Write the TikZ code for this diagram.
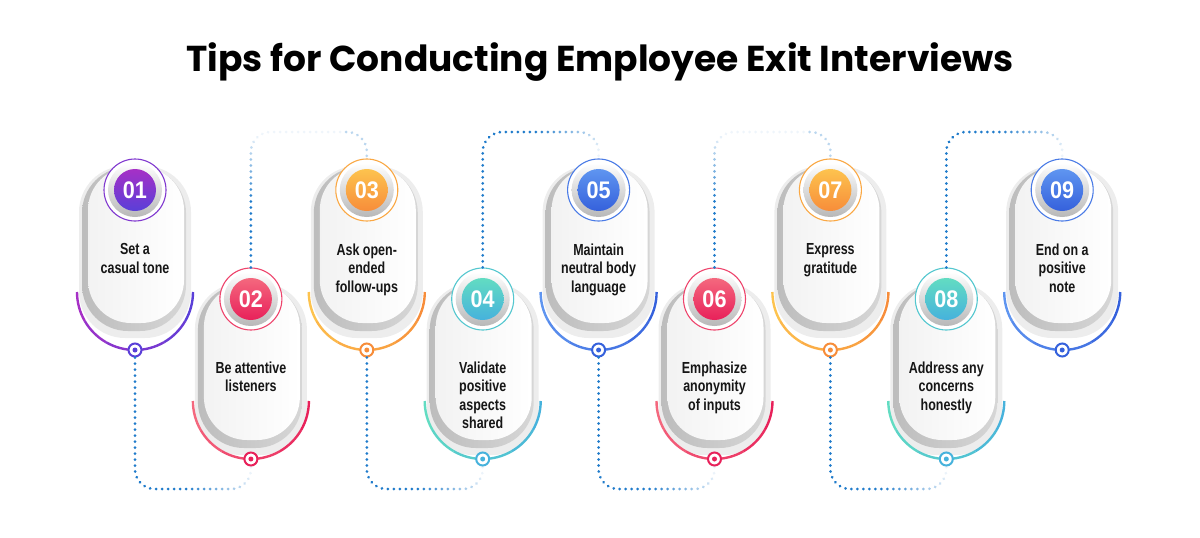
\documentclass[tikz,border=0pt]{standalone}
\usepackage{fontspec}
\setmainfont{Liberation Sans}
\newfontfamily\titlefont{Poppins}
\newfontfamily\cardfont{Liberation Sans}[FakeStretch=0.78]
\newfontfamily\numfont{Liberation Sans}[FakeStretch=0.9]
\usetikzlibrary{decorations.markings}
\definecolor{purA}{HTML}{A630C6}
\definecolor{purB}{HTML}{5A3FD8}
\definecolor{pinA}{HTML}{F4687E}
\definecolor{pinB}{HTML}{E8215A}
\definecolor{oraA}{HTML}{FDC34E}
\definecolor{oraB}{HTML}{F78D3A}
\definecolor{teaA}{HTML}{62DCC2}
\definecolor{teaB}{HTML}{46B2DC}
\definecolor{bluA}{HTML}{5F95F0}
\definecolor{bluB}{HTML}{3561DC}
\definecolor{dotblue}{HTML}{1F7BCB}
\definecolor{ink}{HTML}{161616}
\tikzset{
  pill/.style={rectangle, rounded corners=46pt, minimum width=104pt, minimum height=164pt, inner sep=0pt},
  fadeend/.style={postaction={decorate, decoration={markings,
    mark=between positions 0 and 1 step 6pt with {%
      \pgfmathsetmacro\dfrac{\pgfkeysvalueof{/pgf/decoration/mark info/distance from start}/\pgfdecoratedpathlength}%
      \pgfmathsetmacro\dotop{max(0.08,min(1,3.2*(1-\dfrac)))}%
      \fill[dotblue, opacity=\dotop] (0,0) circle (1.5pt);}}}},
  fademid/.style={postaction={decorate, decoration={markings,
    mark=between positions 0 and 1 step 6pt with {%
      \pgfmathsetmacro\dfrac{\pgfkeysvalueof{/pgf/decoration/mark info/distance from start}/\pgfdecoratedpathlength}%
      \pgfmathsetmacro\dotop{max(max(0.07,min(1,1-3.5*(\dfrac-0.25))),(\dfrac>0.85)*0.3)}%
      \fill[dotblue, opacity=\dotop] (0,0) circle (1.5pt);}}}},
}
\begin{document}
\begin{tikzpicture}[x=1pt,y=-1pt]
\useasboundingbox (0,0) rectangle (1200,538);
\fill[white] (0,0) rectangle (1200,538);
\node[font=\titlefont\bfseries\fontsize{36}{40}\selectfont, anchor=base, text=black, inner sep=0pt] (title) at (600,71) {Tips for Conducting Employee Exit Interviews};

\foreach \idx/\cc/\txt in {1/pur/{Set a\\casual tone},2/pin/{Be attentive\\listeners},3/ora/{Ask open-\\ended\\follow-ups},4/tea/{Validate\\positive\\aspects\\shared},5/blu/{Maintain\\neutral body\\language},6/pin/{Emphasize\\anonymity\\of inputs},7/ora/{Express\\gratitude},8/tea/{Address any\\concerns\\honestly},9/blu/{End on a\\positive\\note}}{
  \pgfmathsetmacro\cardx{135+115.9*(\idx-1)}
  \pgfmathsetmacro\cardy{isodd(\idx)?190:299}
  \pgfmathsetmacro\pilly{\cardy+(isodd(\idx)?56:64)}
  \pgfmathsetmacro\texty{\cardy+(isodd(\idx)?53.5:62.5)}
  \pgfmathsetmacro\arcy{\cardy+102}
  \node[pill, fill=black, opacity=0.07, minimum width=112pt, minimum height=172pt] (soft\idx) at (\cardx,\pilly+6) {};
  \node[pill, left color=black!26, right color=black!16] (pill\idx) at (\cardx-1,\pilly+3) {};
  \node[pill, minimum width=96pt, minimum height=156pt, rounded corners=43pt, left color=black!5, right color=white] (face\idx) at (\cardx+1,\pilly-1) {};
  \foreach \seg in {0,...,5}{
    \pgfmathsetmacro\sa{180-30*\seg}
    \pgfmathtruncatemacro\pct{100-20*\seg}
    \draw[line width=2.4pt, draw=\cc A!\pct!\cc B] ([shift={(\cardx,\arcy)}]\sa:58) arc[start angle=\sa, delta angle=-30, radius=58];
  }
  \node[circle, draw=\cc A!50!\cc B, line width=1.1pt, fill=white, minimum size=62pt, inner sep=0pt] (ring\idx) at (\cardx,\cardy) {};
  \node[circle, minimum size=54pt, inner sep=0pt, top color=white, bottom color=black!28] (bevel\idx) at (\cardx,\cardy) {};
  \node[circle, minimum size=42pt, inner sep=0pt, top color=\cc A, bottom color=\cc B, text=white, font=\numfont\bfseries\fontsize{24}{24}\selectfont] (badge\idx) at (\cardx,\cardy) {0\idx};
  \node[anchor=north, align=center, inner sep=0pt, text=ink, font=\cardfont\bfseries\fontsize{16}{18.5}\selectfont] (txt\idx) at (\cardx,\texty) {\txt};
  \node[circle, draw=\cc B, line width=2pt, fill=white, minimum size=13pt, inner sep=0pt] (dot\idx) at (\cardx,\cardy+160) {};
  \fill[fill=\cc B] (dot\idx.center) circle (2.5);
}

\coordinate (bl) at (0,489);
\coordinate (tl) at (0,132);
\path[fadeend, rounded corners=20pt] (dot1.south) -- (dot1.south |- bl) -- (dot2.south |- bl) -- (dot2.south);
\path[fadeend, rounded corners=20pt] (dot3.south) -- (dot3.south |- bl) -- (dot4.south |- bl) -- (dot4.south);
\path[fadeend, rounded corners=20pt] (dot5.south) -- (dot5.south |- bl) -- (dot6.south |- bl) -- (dot6.south);
\path[fadeend, rounded corners=20pt] (dot7.south) -- (dot7.south |- bl) -- (dot8.south |- bl) -- (dot8.south);
\path[fademid, rounded corners=20pt] (ring2.north) -- (ring2.north |- tl) -- (ring3.north |- tl) -- (ring3.north);
\path[fadeend, rounded corners=20pt] (ring4.north) -- (ring4.north |- tl) -- (ring5.north |- tl) -- (ring5.north);
\path[fademid, rounded corners=20pt] (ring6.north) -- (ring6.north |- tl) -- (ring7.north |- tl) -- (ring7.north);
\path[fadeend, rounded corners=20pt] (ring8.north) -- (ring8.north |- tl) -- (ring9.north |- tl) -- (ring9.north);
\end{tikzpicture}
\end{document}
